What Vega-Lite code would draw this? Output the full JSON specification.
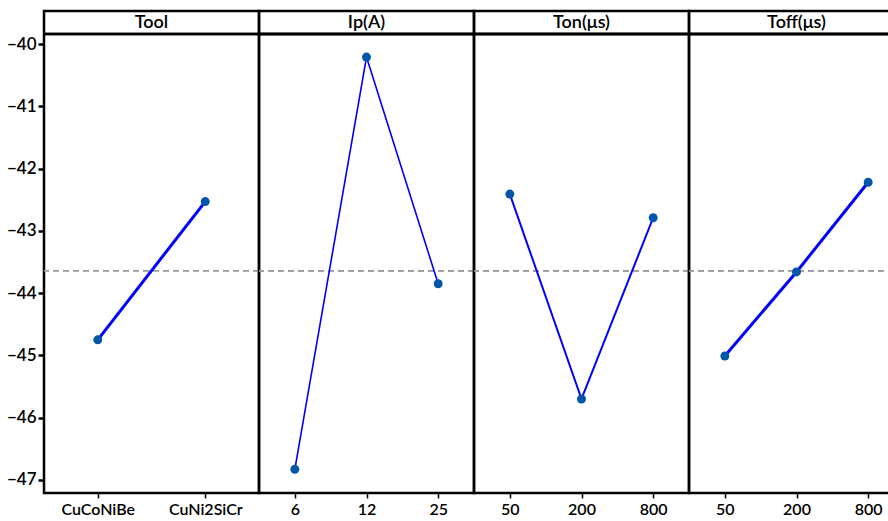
{
  "$schema": "https://vega.github.io/schema/vega-lite/v6.json",
  "padding": {"left": 6, "top": 9, "right": 0, "bottom": 0},
  "background": "white",
  "bounds": "flush",
  "data": {
    "values": [
      {"factor": "Tool", "level": "CuCoNiBe", "idx": 1, "mean": -44.75},
      {"factor": "Tool", "level": "CuNi2SiCr", "idx": 2, "mean": -42.53},
      {"factor": "Ip(A)", "level": "6", "idx": 1, "mean": -46.83},
      {"factor": "Ip(A)", "level": "12", "idx": 2, "mean": -40.21},
      {"factor": "Ip(A)", "level": "25", "idx": 3, "mean": -43.85},
      {"factor": "Ton(μs)", "level": "50", "idx": 1, "mean": -42.41},
      {"factor": "Ton(μs)", "level": "200", "idx": 2, "mean": -45.70},
      {"factor": "Ton(μs)", "level": "800", "idx": 3, "mean": -42.79},
      {"factor": "Toff(μs)", "level": "50", "idx": 1, "mean": -45.01},
      {"factor": "Toff(μs)", "level": "200", "idx": 2, "mean": -43.66},
      {"factor": "Toff(μs)", "level": "800", "idx": 3, "mean": -42.22}
    ]
  },
  "facet": {
    "column": {
      "field": "factor",
      "type": "nominal",
      "sort": ["Tool", "Ip(A)", "Ton(μs)", "Toff(μs)"],
      "header": {"title": null, "labels": false}
    }
  },
  "spacing": 0,
  "resolve": {"scale": {"x": "independent"}},
  "spec": {
    "width": 215,
    "height": 482,
    "layer": [
      {
        "mark": {"type": "rule", "stroke": "#9a9a9a", "strokeWidth": 1.5, "strokeDash": [6, 4]},
        "encoding": {"y": {"datum": -43.64}}
      },
      {
        "mark": {"type": "line", "color": "#0000ff"},
        "encoding": {
          "x": {
            "field": "level", "type": "nominal", "sort": null,
            "scale": {"type": "point", "padding": 0.5},
            "axis": {"title": null, "labelAngle": 0, "domain": false, "ticks": true, "tickSize": 5, "tickWidth": 1.5, "tickColor": "black", "labelPadding": 3, "labelFontSize": 16, "labelFont": "Lato", "labelFontWeight": 600, "labelColor": "black", "grid": false}
          },
          "y": {
            "field": "mean", "type": "quantitative",
            "scale": {"domain": [-47.21, -39.47], "nice": false, "zero": false},
            "axis": {"title": null, "values": [-47, -46, -45, -44, -43, -42, -41, -40], "format": "d", "domain": false, "grid": false, "tickSize": 6, "tickWidth": 2.5, "tickColor": "black", "labelPadding": 2, "labelFontSize": 17, "labelFont": "Lato", "labelFontWeight": 600, "labelColor": "black"}
          },
          "order": {"field": "idx", "type": "quantitative"},
          "strokeWidth": {
            "field": "factor", "type": "nominal",
            "scale": {"type": "ordinal", "domain": ["Tool", "Ip(A)", "Ton(μs)", "Toff(μs)"], "range": [3, 1.6, 2, 3]},
            "legend": null
          }
        }
      },
      {
        "mark": {"type": "point", "filled": true, "color": "#0057a8", "opacity": 1, "size": 80},
        "encoding": {
          "x": {"field": "level", "type": "nominal", "sort": null},
          "y": {"field": "mean", "type": "quantitative"}
        }
      },
      {
        "mark": {"type": "rule", "stroke": "black", "strokeWidth": 2.5},
        "encoding": {"y": {"datum": -39.84}}
      },
      {
        "transform": [{"aggregate": [{"op": "count", "as": "n"}], "groupby": ["factor"]}],
        "mark": {"type": "text", "fontSize": 18, "font": "Lato", "fontWeight": 600, "baseline": "middle", "align": "center", "color": "black"},
        "encoding": {
          "text": {"field": "factor", "type": "nominal"},
          "y": {"datum": -39.655}
        }
      }
    ]
  },
  "config": {
    "view": {"stroke": "black", "strokeWidth": 2.5},
    "facet": {"spacing": 0}
  }
}
